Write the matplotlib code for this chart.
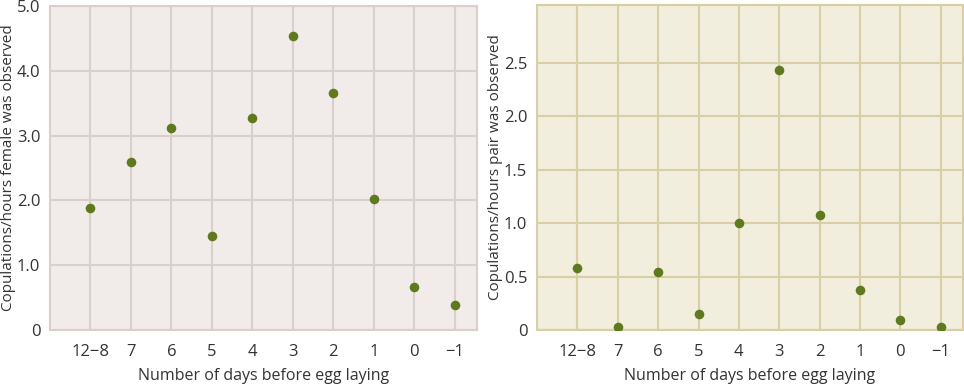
import matplotlib.pyplot as plt

plt.rcParams['font.family'] = ['Open Sans', 'DejaVu Sans']

# categories (days before egg laying)
days = ['12\u22128', '7', '6', '5', '4', '3', '2', '1', '0', '\u22121']

# copulations per hour the female was observed
female_rate = [1.89, 2.60, 3.12, 1.45, 3.27, 4.54, 3.66, 2.02, 0.67, 0.39]

# copulations per hour the pair was observed
pair_rate = [0.58, 0.03, 0.54, 0.15, 1.00, 2.43, 1.08, 0.37, 0.09, 0.03]

dot_color = '#5f7a1e'
text_color = '#333333'

fig = plt.figure(figsize=(9.64, 3.84), dpi=100)
ax1 = fig.add_axes([50 / 964, 54 / 384, 427 / 964, 324 / 384])
ax2 = fig.add_axes([537 / 964, 54 / 384, 426 / 964, 325 / 384])

panels = [
    (ax1, female_rate, '#f1ecea', '#d9d0cc', 5.0,
     [0, 1, 2, 3, 4, 5], ['0', '1.0', '2.0', '3.0', '4.0', '5.0'],
     'Copulations/hours female was observed'),
    (ax2, pair_rate, '#f1eedd', '#d8cfa6', 3.04,
     [0, 0.5, 1.0, 1.5, 2.0, 2.5], ['0', '0.5', '1.0', '1.5', '2.0', '2.5'],
     'Copulations/hours pair was observed'),
]

for ax, vals, bg, grid, ytop, yt, ytl, ylab in panels:
    x = list(range(len(days)))
    ax.set_facecolor(bg)
    ax.scatter(x, vals, s=48, color=dot_color, zorder=3, linewidths=0)
    ax.set_xlim(-1, 9.55)
    ax.set_ylim(0, ytop)
    ax.set_xticks(x)
    ax.set_xticklabels(days)
    ax.set_yticks(yt)
    ax.set_yticklabels(ytl)
    ax.grid(True, color=grid, linewidth=1.5, zorder=0)
    ax.set_axisbelow(True)
    for s in ax.spines.values():
        s.set_color(grid)
        s.set_linewidth(1.5)
    ax.tick_params(length=0, labelsize=12, colors=text_color)
    ax.tick_params(axis='x', pad=10)
    ax.tick_params(axis='y', pad=7)
    ax.set_xlabel('Number of days before egg laying', fontsize=11.5,
                  color=text_color, labelpad=6)
    ax.set_ylabel(ylab, fontsize=11, color=text_color)
    ax.yaxis.set_label_coords(-0.080, 0.5)

fig.savefig('out.png', dpi=100)
